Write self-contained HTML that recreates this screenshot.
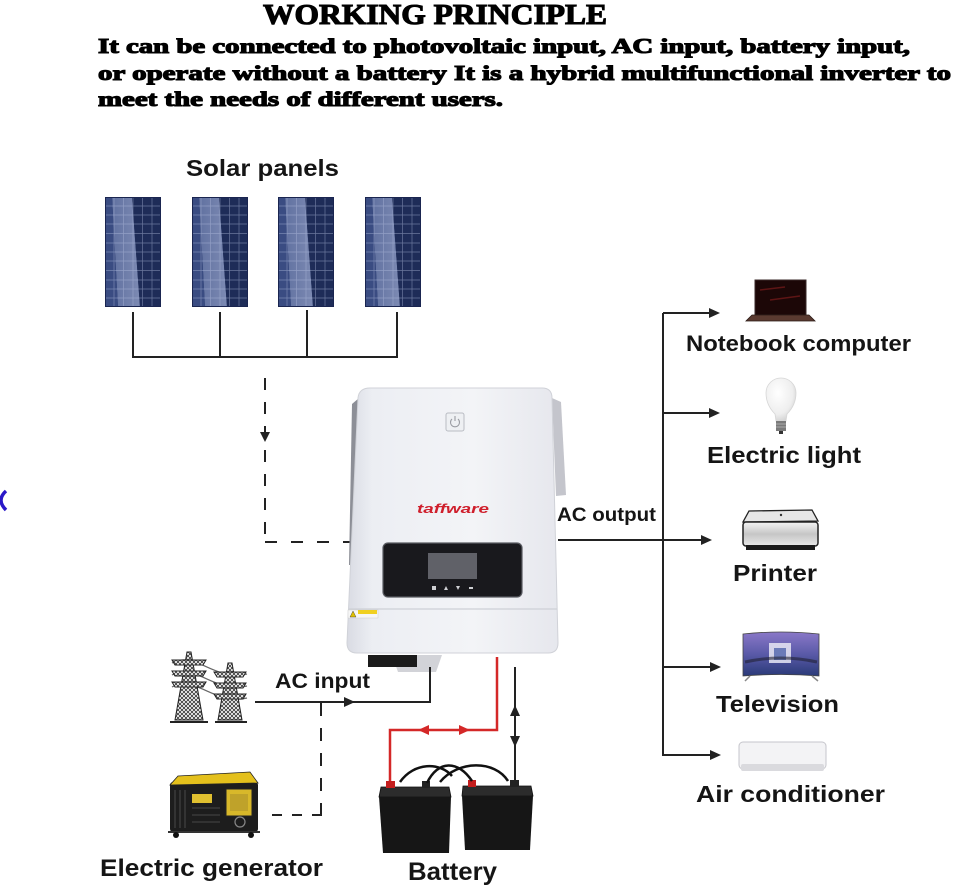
<!DOCTYPE html>
<html>
<head>
<meta charset="utf-8">
<style>
html,body{margin:0;padding:0;background:#fff;}
svg{display:block;}
.lbl{font-family:"Liberation Sans",Arial,sans-serif;font-weight:bold;fill:#151515;}
.ser{font-family:"Liberation Serif","DejaVu Serif",serif;font-weight:bold;fill:#000;stroke:#000;}
</style>
</head>
<body>
<svg width="954" height="890" viewBox="0 0 954 890" xmlns="http://www.w3.org/2000/svg">
<defs>
  <linearGradient id="pband" x1="0" y1="0" x2="1" y2="0">
    <stop offset="0" stop-color="#7686b6"/>
    <stop offset="1" stop-color="#9aa7cf"/>
  </linearGradient>
  <symbol id="panel" viewBox="0 0 56 110" width="56" height="110">
    <rect x="0" y="0" width="56" height="110" fill="#22325f"/>
    <polygon points="7,0 27,0 35,110 13,110" fill="url(#pband)" opacity="0.75"/>
    <polygon points="0,0 7,0 13,110 0,110" fill="#3a4c82"/>
    <polygon points="27,0 56,0 56,110 35,110" fill="#1e2c58"/>
    <g stroke="#b6c0e0" stroke-width="0.7" opacity="0.5">
      <line x1="9" y1="0" x2="9" y2="110"/><line x1="18.5" y1="0" x2="18.5" y2="110"/>
      <line x1="28" y1="0" x2="28" y2="110"/><line x1="37.5" y1="0" x2="37.5" y2="110"/>
      <line x1="47" y1="0" x2="47" y2="110"/>
      <line x1="0" y1="9" x2="56" y2="9"/><line x1="0" y1="18" x2="56" y2="18"/>
      <line x1="0" y1="27" x2="56" y2="27"/><line x1="0" y1="36.5" x2="56" y2="36.5"/>
      <line x1="0" y1="46" x2="56" y2="46"/><line x1="0" y1="55" x2="56" y2="55"/>
      <line x1="0" y1="64" x2="56" y2="64"/><line x1="0" y1="73.5" x2="56" y2="73.5"/>
      <line x1="0" y1="83" x2="56" y2="83"/><line x1="0" y1="92" x2="56" y2="92"/>
      <line x1="0" y1="101" x2="56" y2="101"/>
    </g>
    <rect x="0.5" y="0.5" width="55" height="109" fill="none" stroke="#1a2550" stroke-width="1"/>
  </symbol>
  <linearGradient id="inv" x1="0" y1="0" x2="1" y2="0">
    <stop offset="0" stop-color="#d9dbe3"/>
    <stop offset="0.12" stop-color="#eceef3"/>
    <stop offset="0.6" stop-color="#f3f4f7"/>
    <stop offset="1" stop-color="#e6e7ed"/>
  </linearGradient>
  <pattern id="lat" width="4" height="4" patternUnits="userSpaceOnUse">
    <rect width="4" height="4" fill="#fff"/>
    <path d="M0,0 L4,4 M4,0 L0,4" stroke="#333" stroke-width="0.8"/>
  </pattern>
  <radialGradient id="bulb" cx="0.4" cy="0.35" r="0.7">
    <stop offset="0" stop-color="#ffffff"/>
    <stop offset="0.7" stop-color="#eeeeee"/>
    <stop offset="1" stop-color="#cfcfcf"/>
  </radialGradient>
  <linearGradient id="tv" x1="0" y1="0" x2="0" y2="1">
    <stop offset="0" stop-color="#8a78c8"/>
    <stop offset="0.5" stop-color="#5a5aa8"/>
    <stop offset="1" stop-color="#2a3a78"/>
  </linearGradient>
  <linearGradient id="prn" x1="0" y1="0" x2="0" y2="1">
    <stop offset="0" stop-color="#f4f4f4"/>
    <stop offset="0.5" stop-color="#c6c6c6"/>
    <stop offset="1" stop-color="#e8e8e8"/>
  </linearGradient>
</defs>

<!-- Header -->
<text class="ser" x="263" y="24" font-size="29" stroke-width="1.1" textLength="344" lengthAdjust="spacingAndGlyphs">WORKING PRINCIPLE</text>
<text class="ser" x="98" y="53" font-size="21" stroke-width="1.1" textLength="812" lengthAdjust="spacingAndGlyphs">It can be connected to photovoltaic input, AC input, battery input,</text>
<text class="ser" x="98" y="80" font-size="21" stroke-width="1.1" textLength="853" lengthAdjust="spacingAndGlyphs">or operate without a battery It is a hybrid multifunctional inverter to</text>
<text class="ser" x="98" y="106" font-size="21" stroke-width="1.1" textLength="405" lengthAdjust="spacingAndGlyphs">meet the needs of different users.</text>

<!-- blue fragment at left edge -->
<path d="M6,491 Q-4,500 6,510" fill="none" stroke="#2a18c8" stroke-width="3.5"/>

<!-- Solar panels -->
<text class="lbl" x="186" y="176" font-size="23" textLength="153" lengthAdjust="spacingAndGlyphs">Solar panels</text>
<use href="#panel" x="105" y="197" width="56" height="110"/>
<use href="#panel" x="192" y="197" width="56" height="110"/>
<use href="#panel" x="278" y="197" width="56" height="110"/>
<use href="#panel" x="365" y="197" width="56" height="110"/>
<g stroke="#222" stroke-width="2" fill="none">
  <line x1="133" y1="312" x2="133" y2="357"/>
  <line x1="220" y1="312" x2="220" y2="357"/>
  <line x1="307" y1="310" x2="307" y2="357"/>
  <line x1="397" y1="312" x2="397" y2="357"/>
  <line x1="132" y1="357" x2="398" y2="357"/>
</g>
<!-- PV dashed to inverter -->
<g stroke="#222" stroke-width="2" fill="none">
  <line x1="265" y1="378" x2="265" y2="541" stroke-dasharray="12 12"/>
  <line x1="265" y1="542" x2="356" y2="542" stroke-dasharray="12 14"/>
</g>
<polygon points="260,432 270,432 265,442" fill="#222"/>

<!-- Inverter -->
<polygon points="552,398 561,402 566,495 556,496" fill="#c4c5cc"/>
<polygon points="359,398 352,404 349,565 352,565" fill="#8d8f97"/>
<polygon points="392,655 442,655 436,672 398,672" fill="#d2d3d8"/>
<path d="M370,388 L542,388 Q552,388 552,398 L558,643 Q558,653 548,653 L357,653 Q347,653 347,643 L358,398 Q359,388 370,388 Z" fill="url(#inv)" stroke="#d0d2d8" stroke-width="1"/>
<line x1="349" y1="609" x2="557" y2="609" stroke="#cdd0d6" stroke-width="1.2"/>
<rect x="446" y="413" width="18" height="18" rx="2" fill="#eef0f3" stroke="#b9bcc3" stroke-width="1"/>
<path d="M452,419 A4.5,4.5 0 1 0 458,419" fill="none" stroke="#9a9ca3" stroke-width="1.1"/>
<line x1="455" y1="416" x2="455" y2="421" stroke="#9a9ca3" stroke-width="1.1"/>
<text x="417" y="513" font-family="Liberation Sans,Arial,sans-serif" font-weight="bold" font-style="italic" font-size="13" fill="#cf1f2c" textLength="72" lengthAdjust="spacingAndGlyphs">taffware</text>
<rect x="383" y="543" width="139" height="54" rx="5" fill="#19191d" stroke="#5a5c62" stroke-width="1.2"/>
<rect x="428" y="553" width="49" height="26" fill="#606168"/>
<g fill="#cfd0d4">
  <rect x="432" y="586" width="4" height="4"/>
  <polygon points="444,590 448,590 446,586"/>
  <polygon points="456,586 460,586 458,590"/>
  <rect x="469" y="587" width="4" height="2"/>
</g>
<rect x="348" y="610" width="30" height="8" fill="#f6f6f6" stroke="#ccc" stroke-width="0.5"/>
<rect x="358" y="610" width="19" height="4" fill="#f0d020"/>
<polygon points="350,617 353,611 356,617" fill="#e0c000" stroke="#333" stroke-width="0.4"/>
<rect x="368" y="655" width="49" height="12" fill="#1b1b1b"/>

<!-- AC output -->
<text class="lbl" x="557" y="521" font-size="19" textLength="99" lengthAdjust="spacingAndGlyphs">AC output</text>
<g stroke="#222" stroke-width="2" fill="none">
  <line x1="558" y1="540" x2="704" y2="540"/>
  <line x1="663" y1="313" x2="663" y2="756"/>
  <line x1="663" y1="313" x2="711" y2="313"/>
  <line x1="663" y1="413" x2="711" y2="413"/>
  <line x1="663" y1="667" x2="712" y2="667"/>
  <line x1="663" y1="755" x2="712" y2="755"/>
</g>
<g fill="#222">
  <polygon points="709,308 720,313 709,318"/>
  <polygon points="709,408 720,413 709,418"/>
  <polygon points="701,535 712,540 701,545"/>
  <polygon points="710,662 721,667 710,672"/>
  <polygon points="710,750 721,755 710,760"/>
</g>

<!-- Notebook -->
<rect x="755" y="280" width="51" height="35" fill="#1c0707" stroke="#3a2a2a" stroke-width="1"/>
<path d="M760,290 L785,287 M770,300 L800,296" stroke="#7a1c1c" stroke-width="1.5" opacity="0.7"/>
<polygon points="752,315 809,315 815,321 746,321" fill="#5a3a30" stroke="#2a1a15" stroke-width="0.8"/>
<text class="lbl" x="686" y="351" font-size="22" textLength="225" lengthAdjust="spacingAndGlyphs">Notebook computer</text>

<!-- Bulb -->
<path d="M766,393 A15,15 0 1 1 796,393 Q796,405 787,414 L786,421 L776,421 L775,414 Q766,405 766,393 Z" fill="url(#bulb)" stroke="#d6d6d6" stroke-width="0.8"/>
<rect x="776" y="421" width="10" height="10" fill="#7a7a7a"/>
<path d="M776,424 H786 M776,427 H786" stroke="#bbb" stroke-width="0.8"/>
<rect x="779" y="431" width="4" height="3" fill="#333"/>
<text class="lbl" x="707" y="463" font-size="23" textLength="154" lengthAdjust="spacingAndGlyphs">Electric light</text>

<!-- Printer -->
<polygon points="749,511 812,510 818,521 743,522" fill="#e6e6e6" stroke="#222" stroke-width="1.3"/>
<rect x="743" y="522" width="75" height="24" rx="3" fill="url(#prn)" stroke="#222" stroke-width="1.5"/>
<rect x="746" y="545" width="69" height="5" fill="#1a1a1a"/>
<circle cx="781" cy="515" r="1.2" fill="#333"/>
<text class="lbl" x="733" y="581" font-size="23" textLength="84" lengthAdjust="spacingAndGlyphs">Printer</text>

<!-- TV -->
<path d="M743,634 Q781,630 819,634 L819,676 Q781,673 743,676 Z" fill="url(#tv)" stroke="#444" stroke-width="0.8"/>
<rect x="769" y="643" width="22" height="20" fill="#e8e8f4" opacity="0.85"/>
<rect x="774" y="648" width="12" height="12" fill="#6a7ab8"/>
<path d="M745,662 Q781,654 817,662" stroke="#223" stroke-width="3" fill="none" opacity="0.6"/>
<path d="M750,676 L745,681 M812,676 L818,681" stroke="#888" stroke-width="1.5"/>
<text class="lbl" x="716" y="712" font-size="23" textLength="123" lengthAdjust="spacingAndGlyphs">Television</text>

<!-- Air conditioner -->
<rect x="739" y="742" width="87" height="27" rx="4" fill="#f3f3f5" stroke="#c6c6cc" stroke-width="1"/>
<rect x="741" y="764" width="83" height="7" rx="2" fill="#dadade"/>
<text class="lbl" x="696" y="802" font-size="23" textLength="189" lengthAdjust="spacingAndGlyphs">Air conditioner</text>

<!-- Transmission towers -->
<g stroke="#222" stroke-width="1">
  <path d="M172,663 C195,650 215,682 247,674 M172,675 C195,662 215,694 247,686 M172,687 C195,674 215,706 247,698" fill="none" stroke="#666" stroke-width="1.2"/>
  <polygon points="187,652 191,652 203,720 175,720" fill="url(#lat)"/>
  <polygon points="172,660 206,660 203,665 175,665" fill="url(#lat)"/>
  <polygon points="172,671 206,671 203,676 175,676" fill="url(#lat)"/>
  <polygon points="172,682 206,682 203,687 175,687" fill="url(#lat)"/>
  <polygon points="228,663 232,663 242,720 218,720" fill="url(#lat)"/>
  <polygon points="214,672 246,672 243,677 217,677" fill="url(#lat)"/>
  <polygon points="214,683 246,683 243,688 217,688" fill="url(#lat)"/>
  <polygon points="214,694 246,694 243,699 217,699" fill="url(#lat)"/>
</g>
<path d="M170,722 H208 M215,722 H247" stroke="#222" stroke-width="2"/>

<!-- AC input -->
<text class="lbl" x="275" y="688" font-size="21" textLength="95" lengthAdjust="spacingAndGlyphs">AC input</text>
<path d="M255,702 H430 V667" stroke="#222" stroke-width="2" fill="none"/>
<polygon points="344,697 355,702 344,707" fill="#222"/>
<g stroke="#222" stroke-width="2" fill="none">
  <line x1="321" y1="703" x2="321" y2="814" stroke-dasharray="13 12"/>
  <line x1="272" y1="815" x2="322" y2="815" stroke-dasharray="10 10"/>
</g>

<!-- Generator -->
<rect x="170" y="782" width="88" height="50" rx="3" fill="#1d1d1d"/>
<polygon points="178,776 250,772 258,783 170,785" fill="#e4c01c" stroke="#222" stroke-width="0.8"/>
<rect x="226" y="789" width="26" height="27" fill="#d8b82a" stroke="#222" stroke-width="1"/>
<rect x="230" y="794" width="18" height="17" fill="#bfa22a"/>
<rect x="192" y="794" width="20" height="9" fill="#e0c030"/>
<g stroke="#555" stroke-width="0.8">
  <path d="M175,790 V828 M180,790 V828 M185,790 V828"/>
  <path d="M192,808 H220 M192,815 H220 M192,822 H220"/>
</g>
<circle cx="240" cy="822" r="5" fill="none" stroke="#888" stroke-width="1.2"/>
<path d="M168,832 H260" stroke="#333" stroke-width="2"/>
<circle cx="176" cy="835" r="3" fill="#111"/>
<circle cx="251" cy="835" r="3" fill="#111"/>
<text class="lbl" x="100" y="876" font-size="24" textLength="223" lengthAdjust="spacingAndGlyphs">Electric generator</text>

<!-- Battery wiring -->
<path d="M497,657 V730 H390 V783" stroke="#d42828" stroke-width="2.5" fill="none"/>
<polygon points="418,730 429,725 429,735" fill="#d42828"/>
<polygon points="470,730 459,725 459,735" fill="#d42828"/>
<line x1="515" y1="667" x2="515" y2="784" stroke="#222" stroke-width="2"/>
<polygon points="515,705 510,716 520,716" fill="#222"/>
<polygon points="515,747 510,736 520,736" fill="#222"/>

<!-- Batteries -->
<polygon points="381,787 449,787 451,797 379,797" fill="#2c2c2c" stroke="#111" stroke-width="0.8"/>
<polygon points="379,797 451,797 449,853 383,853" fill="#161616"/>
<polygon points="463,786 531,786 533,796 462,796" fill="#2c2c2c" stroke="#111" stroke-width="0.8"/>
<polygon points="462,796 533,796 530,850 465,850" fill="#161616"/>
<rect x="386" y="781" width="9" height="7" fill="#c41e1e"/>
<rect x="422" y="781" width="8" height="7" fill="#222"/>
<rect x="468" y="780" width="8" height="7" fill="#c41e1e"/>
<rect x="510" y="780" width="9" height="7" fill="#222"/>
<path d="M427,783 C438,760 458,760 472,781" stroke="#111" stroke-width="2.5" fill="none"/>
<path d="M400,782 C414,762 440,762 452,776" stroke="#111" stroke-width="2.5" fill="none"/>
<path d="M440,782 C458,760 495,760 508,781" stroke="#111" stroke-width="2.5" fill="none"/>
<text class="lbl" x="408" y="880" font-size="25" textLength="89" lengthAdjust="spacingAndGlyphs">Battery</text>
</svg>
</body>
</html>
